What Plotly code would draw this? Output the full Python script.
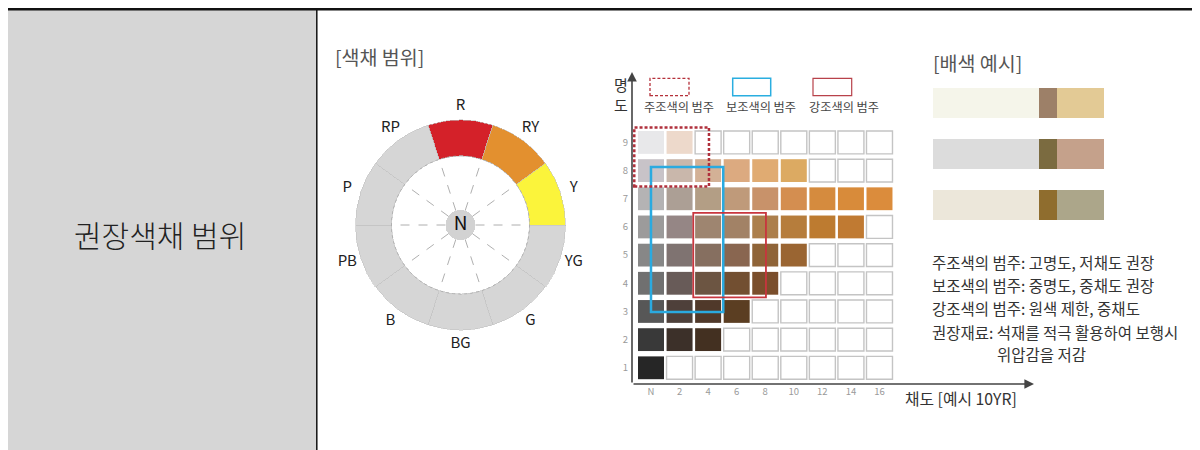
import plotly.graph_objects as go

# The page body adds an 8px margin, so the figure is 8px smaller and page
# coordinates are shifted by 8px.
PAGE_W, PAGE_H, OFF = 1200, 450, 8
W, H = PAGE_W - OFF, PAGE_H - OFF
FONT = "Noto Sans CJK KR"

# ---------------- data ----------------
hue_names = ["R", "RY", "Y", "YG", "G", "BG", "B", "PB", "P", "RP"]
hue_colors = ["#d42129", "#e3902f", "#fbf43b", "#d6d6d6", "#d6d6d6",
              "#d6d6d6", "#d6d6d6", "#d6d6d6", "#d6d6d6", "#d6d6d6"]

chroma_ticks = [0, 2, 4, 6, 8, 10, 12, 14, 16]
chroma_labels = ["N", "2", "4", "6", "8", "10", "12", "14", "16"]
value_levels = [1, 2, 3, 4, 5, 6, 7, 8, 9]

value_9 = ["#e8e8ea", "#edd9cb", None, None, None, None, None, None, None]
value_8 = ["#c8c3c8", "#c9b7ab", "#d3b196", "#dcaa80", "#e0ab72", "#dcaa62", None, None, None]
value_7 = ["#b4b3b4", "#ac9f95", "#b39e85", "#bf9a7a", "#c8926a", "#d48e50", "#d58b3e", "#d88b3a", "#db8c3c"]
value_6 = ["#9c9b9b", "#958685", "#9e8570", "#a28266", "#ac7f4c", "#b67d3c", "#bd7b30", "#c07a32", None]
value_5 = ["#878787", "#7f7371", "#866f60", "#896650", "#8f6438", "#9a6532", None, None, None]
value_4 = ["#707070", "#685b58", "#6c5542", "#724f31", "#7a4e2c", None, None, None, None]
value_3 = ["#575757", "#4e403a", "#50392a", "#5b3e22", None, None, None, None, None]
value_2 = ["#393939", "#3c3029", "#433021", None, None, None, None, None, None]
value_1 = ["#262626", None, None, None, None, None, None, None, None]
rows = {1: value_1, 2: value_2, 3: value_3, 4: value_4, 5: value_5,
        6: value_6, 7: value_7, 8: value_8, 9: value_9}

# ranges: (chroma_from, chroma_to, value_from, value_to)
main_range = (-1.17, 4.06, 7.44, 9.53)
sub_range = (0.0, 5.06, 2.98, 8.13)
accent_range = (2.96, 8.05, 3.5, 6.5)

range_names = ["주조색의 범주", "보조색의 범주", "강조색의 범주"]

swatch_rows = [0, 1, 2]
base_share = [106, 106, 106]
accent_share = [18, 18, 18]
second_share = [47, 47, 47]
base_colors = ["#f5f5ea", "#dcdcdc", "#ece7da"]
accent_colors = ["#9d8068", "#7b6b40", "#8f6d2e"]
second_colors = ["#e3ca95", "#c5a18b", "#aca68a"]

notes = ["주조색의 범주: 고명도, 저채도 권장",
         "보조색의 범주: 중명도, 중채도 권장",
         "강조색의 범주: 원색 제한, 중채도",
         "권장재료: 석재를 적극 활용하여 보행시",
         "위압감을 저감"]


def px(x):
    return (x - OFF) / W


def py(y):
    return 1 - (y - OFF) / H


fig = go.Figure()

# ---------------- colour wheel (polar) ----------------
thetas = [i * 36 for i in range(len(hue_names))]
fig.add_trace(go.Barpolar(
    theta=thetas, r=[36] * 10, base=[69] * 10, width=[36] * 10,
    marker=dict(color=hue_colors, line=dict(color="#c2c2c2", width=0.6)),
    hoverinfo="skip", showlegend=False))

rr, tt = [], []
for k in range(10):
    a = 18 + 36 * k
    rr += [15, 69, None]
    tt += [a, a, None]
fig.add_trace(go.Scatterpolar(r=rr, theta=tt, mode="lines",
                              line=dict(color="#9a9a9a", width=0.8, dash="dash"),
                              hoverinfo="skip", showlegend=False))
circ_t = list(range(0, 361, 2))
fig.add_trace(go.Scatterpolar(r=[69] * len(circ_t), theta=circ_t, mode="lines",
                              line=dict(color="#aaaaaa", width=0.8, dash="dot"),
                              hoverinfo="skip", showlegend=False))
fig.add_trace(go.Barpolar(theta=[0], r=[15], base=[0], width=[360],
                          marker=dict(color="#d2d2d2", line=dict(width=0)),
                          hoverinfo="skip", showlegend=False))
fig.add_trace(go.Scatterpolar(r=[119] * 10, theta=thetas, mode="text", text=hue_names,
                              textfont=dict(family=FONT, size=15, color="#222"),
                              cliponaxis=False, hoverinfo="skip", showlegend=False))
fig.add_trace(go.Scatterpolar(r=[0], theta=[0], mode="text", text=["N"],
                              textfont=dict(family=FONT, size=19, color="#111"),
                              cliponaxis=False, hoverinfo="skip", showlegend=False))

# ---------------- Munsell grid (x / y) ----------------
fig.add_trace(go.Scatter(x=[0], y=[1], mode="markers", marker=dict(opacity=0),
                         hoverinfo="skip", showlegend=False, xaxis="x", yaxis="y"))

shapes = []
cw, ch = 1.82, 0.81
for v in value_levels:
    for c, col in zip(chroma_ticks, rows[v]):
        if col is None:
            shapes.append(dict(type="rect", xref="x", yref="y",
                               x0=c - cw / 2, x1=c + cw / 2, y0=v - ch / 2, y1=v + ch / 2,
                               fillcolor="white", line=dict(color="#c4c4c4", width=1.4)))
        else:
            shapes.append(dict(type="rect", xref="x", yref="y",
                               x0=c - cw / 2, x1=c + cw / 2, y0=v - ch / 2, y1=v + ch / 2,
                               fillcolor=col, line=dict(width=0)))


def range_box(rng, color, width, dash="solid"):
    return dict(type="rect", xref="x", yref="y", x0=rng[0], x1=rng[1], y0=rng[2], y1=rng[3],
                fillcolor="rgba(0,0,0,0)", line=dict(color=color, width=width, dash=dash))


shapes.append(range_box(sub_range, "#2aaae0", 2.5))
shapes.append(range_box(accent_range, "#c8363e", 1.8))
shapes.append(range_box(main_range, "#b0303c", 2.5, "3px,2px"))

# legend samples
shapes.append(dict(type="rect", xref="paper", yref="paper", x0=px(650), x1=px(689),
                   y0=py(95.7), y1=py(78.3), line=dict(color="#b5303a", width=1.3, dash="3px,2px")))
shapes.append(dict(type="rect", xref="paper", yref="paper", x0=px(732.7), x1=px(770.7),
                   y0=py(95.7), y1=py(78.3), line=dict(color="#2aaee0", width=1.5)))
shapes.append(dict(type="rect", xref="paper", yref="paper", x0=px(813), x1=px(851.7),
                   y0=py(95.7), y1=py(78.3), line=dict(color="#b8424a", width=1.2)))

# ---------------- page frame ----------------
frame = [
    dict(type="rect", xref="paper", yref="paper", x0=px(6), x1=px(316), y0=py(460), y1=py(10),
         fillcolor="#d6d6d6", line=dict(width=0), layer="below"),
    dict(type="line", xref="paper", yref="paper", x0=px(6), x1=px(1210), y0=py(9), y1=py(9),
         line=dict(color="#111", width=3)),
    dict(type="line", xref="paper", yref="paper", x0=px(316.8), x1=px(316.8), y0=py(460), y1=py(10),
         line=dict(color="#111", width=1.5)),
]
shapes = frame + shapes

# ---------------- swatches (x2 / y2) ----------------
fig.add_trace(go.Bar(y=swatch_rows, x=base_share, orientation="h", width=0.59,
                     marker=dict(color=base_colors, line=dict(width=0)),
                     xaxis="x2", yaxis="y2", hoverinfo="skip", showlegend=False))
fig.add_trace(go.Bar(y=swatch_rows, x=accent_share, orientation="h", width=0.59,
                     marker=dict(color=accent_colors, line=dict(width=0)),
                     xaxis="x2", yaxis="y2", hoverinfo="skip", showlegend=False))
fig.add_trace(go.Bar(y=swatch_rows, x=second_share, orientation="h", width=0.59,
                     marker=dict(color=second_colors, line=dict(width=0)),
                     xaxis="x2", yaxis="y2", hoverinfo="skip", showlegend=False))

# ---------------- annotations ----------------
ann = []


def text(x, y, s, size, color="#333", xanchor="left", family=FONT, weight=None):
    f = dict(family=family, size=size, color=color)
    if weight:
        f["weight"] = weight
    ann.append(dict(x=px(x), y=py(y), xref="paper", yref="paper", text=s, showarrow=False,
                    xanchor=xanchor, yanchor="middle", font=f))


text(160, 234, "권장색채 범위", 30, "#222", "center", weight=300)
text(333, 56, "[색채 범위]", 19.5, "#555")
text(931, 62, "[배색 예시]", 19.5, "#555")
text(621, 95, "명<br>도", 15, "#333", "center")
for name, cx in zip(range_names, [679, 761, 843.5]):
    text(cx, 106.5, name, 12.2, "#444", "center")
text(903, 398.5, "채도 [예시 10YR]", 15.8, "#333")
ys = [261.7, 285, 308.3, 331.7, 354]
for i, line in enumerate(notes):
    text(995 if i == 4 else 930, ys[i], line, 15.5, "#333")

# axis arrows
x_left, x_right = -1.33, 26.82
y_bot, y_top = 0.425, 11.5
ann.append(dict(x=x_left, y=y_top, ax=x_left, ay=y_bot, xref="x", yref="y", axref="x", ayref="y",
                text="", showarrow=True, arrowhead=2, arrowsize=1.2, arrowwidth=1.6,
                arrowcolor="#444", standoff=0))
ann.append(dict(x=x_right, y=y_bot, ax=x_left, ay=y_bot, xref="x", yref="y", axref="x", ayref="y",
                text="", showarrow=True, arrowhead=2, arrowsize=1.2, arrowwidth=1.6,
                arrowcolor="#444", standoff=0))

fig.update_layout(
    width=W, height=H, margin=dict(l=0, r=0, t=0, b=0),
    paper_bgcolor="white", plot_bgcolor="rgba(0,0,0,0)",
    barmode="stack", bargap=0,
    shapes=shapes, annotations=ann,
    polar=dict(domain=dict(x=[px(335.5), px(585.5)], y=[py(350), py(100)]),
               bgcolor="rgba(0,0,0,0)", bargap=0, hole=0,
               radialaxis=dict(range=[0, 125], visible=False),
               angularaxis=dict(rotation=90, direction="clockwise", showgrid=False,
                                showline=False, showticklabels=False, ticks="")),
    xaxis=dict(domain=[px(632), px(1034)], range=[x_left, x_right], showgrid=False,
               zeroline=False, showline=False, tickvals=chroma_ticks, ticktext=chroma_labels,
               ticks="", tickfont=dict(family=FONT, size=9.5, color="#9a9a9a"), anchor="y"),
    yaxis=dict(domain=[py(384), py(72)], range=[y_bot, y_top], showgrid=False,
               zeroline=False, showline=False, tickvals=value_levels, ticks="",
               tickfont=dict(family=FONT, size=9.5, color="#9a9a9a"), anchor="x",
               ticklabelstandoff=3),
    xaxis2=dict(domain=[px(932.7), px(1104)], range=[0, 171], visible=False, anchor="y2"),
    yaxis2=dict(domain=[py(230), py(78)], range=[2.494, -0.498], visible=False, anchor="x2"),
    font=dict(family=FONT),
)

fig.write_html("out.html")
